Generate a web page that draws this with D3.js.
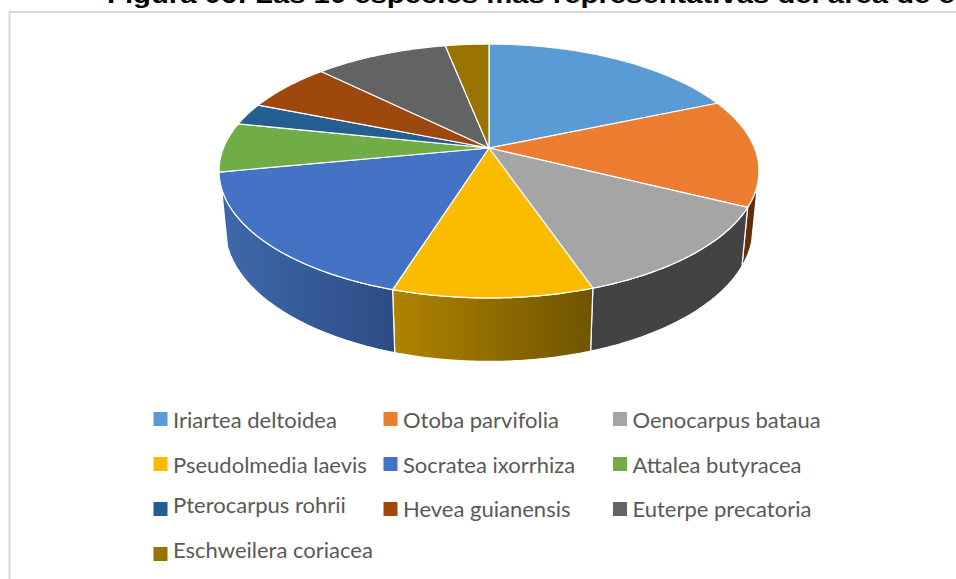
<!DOCTYPE html>
<html><head><meta charset="utf-8">
<style>html,body{margin:0;padding:0;background:#fff;overflow:hidden}svg{display:block}</style>
<script src="https://cdnjs.cloudflare.com/ajax/libs/d3/7.8.5/d3.min.js"></script>
</head><body><svg id="c" width="956" height="579"></svg>
<script>
const species = ["Iriartea deltoidea","Otoba parvifolia","Oenocarpus bataua","Pseudolmedia laevis","Socratea ixorrhiza","Attalea butyracea","Pterocarpus rohrii","Hevea guianensis","Euterpe precatoria","Eschweilera coriacea"];
const shares = [18.6,13.7,12.4,10.1,17.1,6.3,2.8,6.3,9.5,3.1];
const topColors = ["#5b9bd5","#ed7d31","#a5a5a5","#fbbc00","#4472c4","#70ad47","#255e91","#9e480e","#636363","#997300"];
const wallFrom = ["#3a6a96","#6e3610","#434343","#b08300","#3f69ad","#4d7a32","#1a4268","#6e320a","#454545","#6b5000"];
const wallTo   = ["#3a6a96","#5c2c0a","#434343","#6f5500","#2d4c84","#4d7a32","#1a4268","#6e320a","#454545","#6b5000"];
const titleText = "Figura 06: Las 10 especies más representativas del área de estudio";

const svg = d3.select("#c");
const cx=489, apexY=148, R=265.5, S=122.8, K=0.181;
const pie = d3.pie().sort(null).value(d=>d);
const arcs = pie(shares);
const deg=Math.PI/180, wallA0=106*deg, wallA1=252*deg;
function topPt(a){
  const X=Math.sin(a), Y=-Math.cos(a), w=1-K*Y;
  return [cx+R*X/w, apexY+S*Y/w];
}
function botPt(a){
  const p=topPt(a);
  return [cx+(p[0]-cx)*0.978, 204+1.05*(p[1]-apexY)];
}
const samples=(a0,a1)=>d3.range(0,61).map(i=>a0+(a1-a0)*i/60);
const line=d3.line();

svg.append("rect").attr("x",9.5).attr("y",12).attr("width",1100).attr("height",900)
  .attr("fill","#fff").attr("stroke","#d9d9d9").attr("stroke-width",2);

svg.append("text").attr("transform","translate(107,3) scale(1.22,1)").attr("font-family","Liberation Sans")
  .attr("font-weight","bold").attr("font-size",24).attr("fill","#000").text(titleText);

const defs=svg.append("defs");
arcs.forEach((d,i)=>{
  const xs=samples(d.startAngle,d.endAngle).map(topPt).map(p=>p[0]);
  const g=defs.append("linearGradient").attr("id","w"+i).attr("gradientUnits","userSpaceOnUse")
    .attr("x1",d3.min(xs)).attr("x2",d3.max(xs)).attr("y1",0).attr("y2",0);
  g.append("stop").attr("offset",0).attr("stop-color",wallFrom[i]);
  g.append("stop").attr("offset",1).attr("stop-color",wallTo[i]);
});
const front=arcs.filter(d=>d.endAngle>wallA0&&d.startAngle<wallA1);
svg.append("g").selectAll("path").data(front).join("path")
  .attr("d",d=>{const s=samples(Math.max(d.startAngle,wallA0),Math.min(d.endAngle,wallA1));return line([...s.map(topPt),...s.slice().reverse().map(botPt)])+"Z";})
  .attr("fill",d=>`url(#w${d.index})`).attr("stroke","#fff").attr("stroke-width",1.2).attr("stroke-linejoin","round");
svg.append("g").selectAll("path").data(arcs).join("path")
  .attr("d",d=>line([[cx,apexY],...samples(d.startAngle,d.endAngle).map(topPt)])+"Z")
  .attr("fill",(d,i)=>topColors[i]).attr("stroke","#fff").attr("stroke-width",1.2).attr("stroke-linejoin","round");

const colX=[153.5,383.5,613], rowY=[412,457,502,547];
const textOffset=[16,16,16,16,16,16,11,15,15,11];
const leg=svg.append("g").selectAll("g").data(species).join("g").attr("transform",(d,i)=>`translate(${colX[i%3]},${rowY[Math.floor(i/3)]})`);
leg.append("rect").attr("width",14).attr("height",14).attr("fill",(d,i)=>topColors[i]);
leg.append("text").attr("x",19.5).attr("y",(d,i)=>textOffset[i]).attr("font-family","Lato").attr("font-size",22).attr("fill","#595959").text(d=>d);
</script></body></html>
